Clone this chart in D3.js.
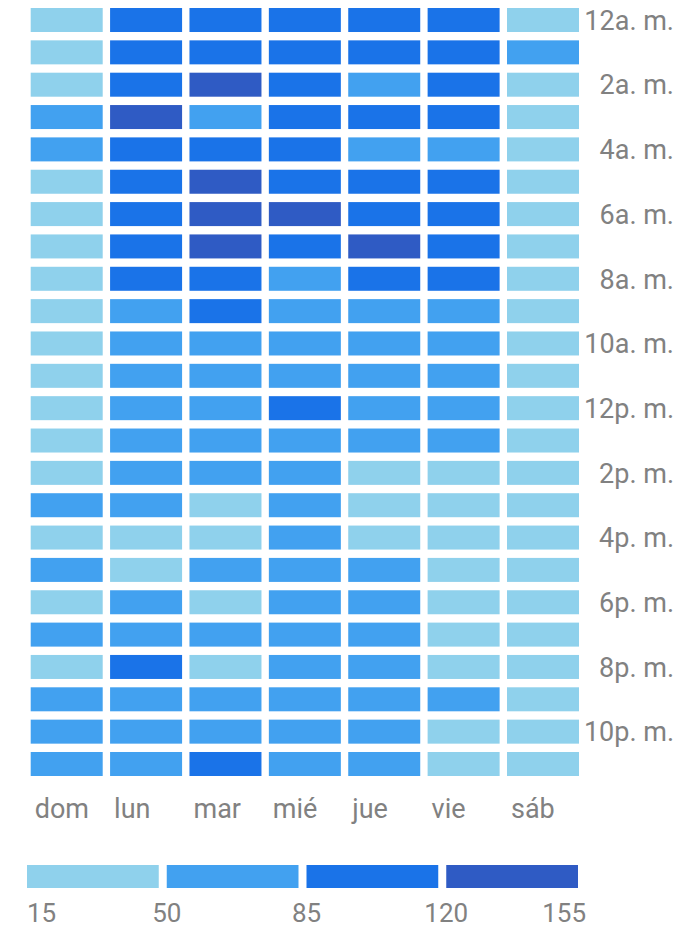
<!DOCTYPE html>
<html>
<head>
<meta charset="utf-8">
<script src="https://cdn.jsdelivr.net/npm/d3@7"></script>
<style>
  html, body { margin: 0; padding: 0; background: #ffffff; }
  svg { display: block; }
  text { font-family: Roboto, "Noto Sans", sans-serif; fill: #818181; }
</style>
</head>
<body>
<svg id="chart" width="686" height="930"></svg>
<script>
// ---- data ----
const days = ["dom", "lun", "mar", "mié", "jue", "vie", "sáb"];
const hourLabels = ["12a. m.", "1a. m.", "2a. m.", "3a. m.", "4a. m.", "5a. m.", "6a. m.", "7a. m.",
  "8a. m.", "9a. m.", "10a. m.", "11a. m.", "12p. m.", "1p. m.", "2p. m.", "3p. m.",
  "4p. m.", "5p. m.", "6p. m.", "7p. m.", "8p. m.", "9p. m.", "10p. m.", "11p. m."];
const shownHourLabels = ["12a. m.", "2a. m.", "4a. m.", "6a. m.", "8a. m.", "10a. m.",
  "12p. m.", "2p. m.", "4p. m.", "6p. m.", "8p. m.", "10p. m."];
// values per day, one per hour (12a. m. .. 11p. m.)
const domValues = [38, 42, 40, 62, 58, 35, 33, 30, 32, 36, 40, 44, 45, 42, 46, 60, 47, 63, 44, 66, 45, 64, 68, 66];
const lunValues = [102, 100, 98, 128, 104, 100, 106, 104, 110, 80, 76, 74, 72, 70, 72, 68, 48, 46, 64, 70, 96, 72, 74, 70];
const marValues = [100, 98, 126, 70, 104, 130, 132, 136, 108, 90, 78, 76, 72, 70, 74, 46, 44, 66, 42, 70, 44, 72, 70, 92];
const mieValues = [104, 106, 102, 98, 100, 104, 128, 100, 76, 80, 78, 76, 96, 74, 72, 70, 68, 70, 72, 74, 70, 72, 74, 70];
const jueValues = [100, 102, 74, 98, 70, 104, 106, 134, 100, 80, 78, 76, 74, 72, 46, 44, 42, 62, 66, 70, 68, 70, 72, 66];
const vieValues = [104, 100, 98, 102, 72, 100, 104, 102, 98, 78, 76, 74, 72, 70, 48, 44, 40, 42, 44, 40, 42, 60, 38, 36];
const sabValues = [40, 56, 38, 36, 34, 32, 30, 32, 34, 36, 38, 40, 42, 40, 42, 44, 40, 38, 42, 40, 44, 46, 42, 40];
const legendThresholds = [15, 50, 85, 120, 155];
const binColors = ["#8fd1ec", "#42a1f0", "#1a73e8", "#2f5bc4"];

const dayValues = [domValues, lunValues, marValues, mieValues, jueValues, vieValues, sabValues];
const cells = [];
days.forEach((d, i) => hourLabels.forEach((h, j) => cells.push({ day: d, hour: h, value: dayValues[i][j] })));

// ---- scales ----
const svg = d3.select("#chart");
const x = d3.scaleBand().domain(days).range([30.7, 579]).paddingInner(0.093).paddingOuter(0);
const y = d3.scaleBand().domain(hourLabels).range([8, 776]).paddingInner(0.258).paddingOuter(0);
const color = d3.scaleThreshold().domain(legendThresholds.slice(1, -1)).range(binColors);

// ---- cells ----
svg.append("g").selectAll("rect").data(cells).join("rect")
  .attr("x", d => x(d.day))
  .attr("y", d => y(d.hour))
  .attr("width", x.bandwidth())
  .attr("height", y.bandwidth())
  .attr("fill", d => color(d.value));

// ---- right hour labels ----
svg.append("g").selectAll("text").data(shownHourLabels).join("text")
  .attr("x", 674)
  .attr("y", d => y(d) + y.bandwidth() / 2)
  .attr("dy", "0.36em")
  .attr("text-anchor", "end")
  .style("font-size", "27px")
  .text(d => d);

// ---- bottom day labels ----
svg.append("g").selectAll("text").data(days).join("text")
  .attr("x", d => x(d) + 4)
  .attr("y", 818)
  .attr("text-anchor", "start")
  .style("font-size", "27px")
  .text(d => d);

// ---- legend ----
const lx = d3.scaleLinear().domain([15, 155]).range([27, 586]);
const legendBins = d3.range(binColors.length).map(i => ({ from: legendThresholds[i], to: legendThresholds[i + 1], color: binColors[i] }));
const legend = svg.append("g");
legend.selectAll("rect").data(legendBins).join("rect")
  .attr("x", d => lx(d.from))
  .attr("y", 865)
  .attr("width", d => lx(d.to) - lx(d.from) - 8)
  .attr("height", 23)
  .attr("fill", d => d.color);
legend.selectAll("text").data(legendThresholds).join("text")
  .attr("x", d => lx(d))
  .attr("y", 922)
  .attr("text-anchor", (d, i) => i === 0 ? "start" : (i === legendThresholds.length - 1 ? "end" : "middle"))
  .style("font-size", "26px")
  .text(d => d);
</script>
</body>
</html>
